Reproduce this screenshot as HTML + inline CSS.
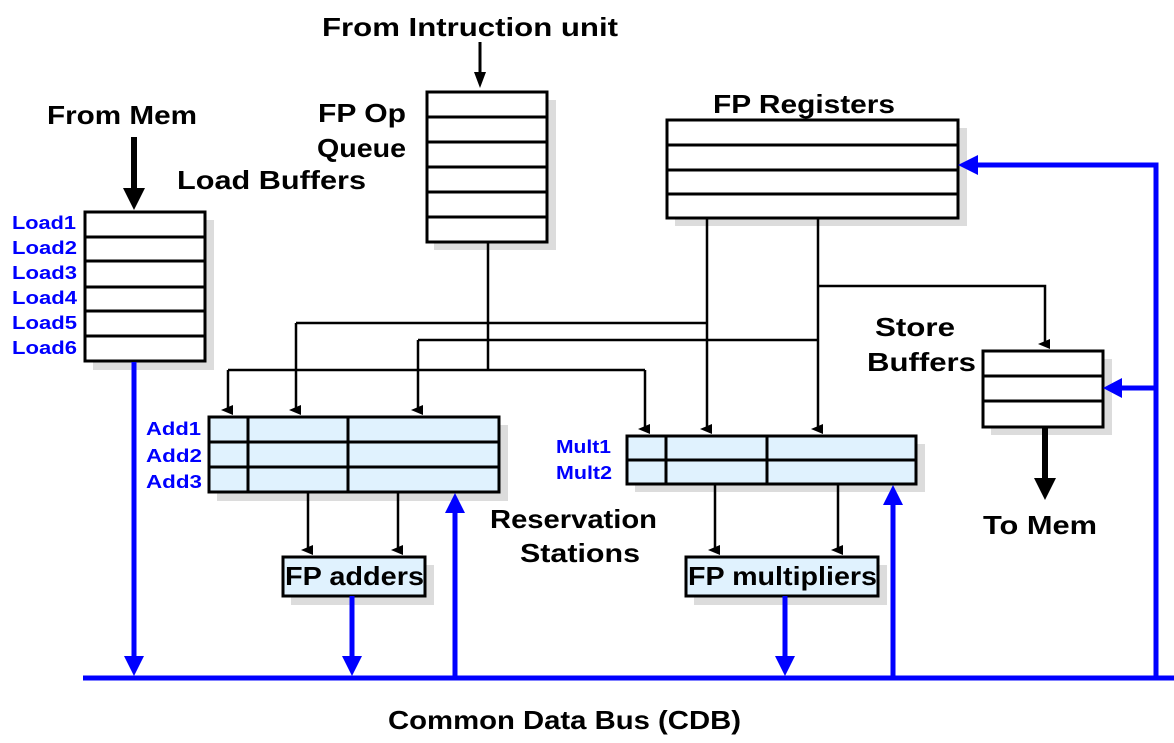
<!DOCTYPE html>
<html><head><meta charset="utf-8"><style>
html,body{margin:0;padding:0;background:#fff;}
svg{display:block;}
text{font-family:"Liberation Sans",sans-serif;font-weight:bold;}
.b{fill:#000;font-size:26px;}
.l{fill:#0000ff;font-size:18px;}
</style></head><body>
<svg width="1174" height="743" viewBox="0 0 1174 743" xmlns="http://www.w3.org/2000/svg">
<defs>
<marker id="ak" markerWidth="10" markerHeight="12" refX="5" refY="5" orient="auto-start-reverse" markerUnits="userSpaceOnUse" viewBox="0 0 10 12"><path d="M0,0 L10,0 L5,12 Z" fill="#000"/></marker>
</defs>
<g fill="#dcdcdc">
<rect x="93" y="220" width="121" height="150"/>
<rect x="434" y="100" width="122" height="150"/>
<rect x="675" y="128" width="292" height="98"/>
<rect x="991" y="359" width="121" height="76"/>
<rect x="217" y="425" width="291" height="76"/>
<rect x="635" y="444" width="290" height="48"/>
<rect x="291" y="565" width="143" height="40"/>
<rect x="694" y="565" width="193" height="40"/>
</g>
<g stroke="#000" stroke-width="3" fill="#fff">
<rect x="85" y="212" width="120" height="149"/>
<path d="M85 237H205M85 261H205M85 287H205M85 311H205M85 336H205"/>
<rect x="427" y="92" width="120" height="150"/>
<path d="M427 117H547M427 142H547M427 167H547M427 192H547M427 217H547"/>
<rect x="667" y="120" width="291" height="98"/>
<path d="M667 145H958M667 170H958M667 194H958"/>
<rect x="983" y="351" width="120" height="76"/>
<path d="M983 376H1103M983 401H1103"/>
</g>
<g stroke="#000" stroke-width="3" fill="#e0f2fe">
<rect x="209" y="417" width="290" height="75"/>
<path d="M209 442H499M209 467H499M248 417V492M348 417V492"/>
<rect x="627" y="436" width="289" height="48"/>
<path d="M627 460H916M666 436V484M767 436V484"/>
<rect x="283" y="557" width="142" height="39"/>
<rect x="686" y="557" width="192" height="39"/>
</g>
<g stroke="#000" stroke-width="2.5" fill="none">
<path d="M488 242V370M228 370H645"/>
<path d="M228 370V410" marker-end="url(#ak)"/>
<path d="M645 370V429" marker-end="url(#ak)"/>
<path d="M707 218V429" marker-end="url(#ak)"/>
<path d="M818 218V429" marker-end="url(#ak)"/>
<path d="M296 323H707M296 323V410" marker-end="url(#ak)"/>
<path d="M418 340H818M418 340V410" marker-end="url(#ak)"/>
<path d="M818 286H1045V344" marker-end="url(#ak)"/>
<path d="M308 492V550" marker-end="url(#ak)"/>
<path d="M398 492V550" marker-end="url(#ak)"/>
<path d="M715 484V550" marker-end="url(#ak)"/>
<path d="M838 484V550" marker-end="url(#ak)"/>
</g>
<g stroke="#000" stroke-width="3">
<path d="M480 42V75"/>
</g>
<path d="M474 72H486L480 88Z" fill="#000"/>
<path d="M134 137V190" stroke="#000" stroke-width="6"/>
<path d="M123 188H145L134 210Z" fill="#000"/>
<path d="M1045 427V480" stroke="#000" stroke-width="6"/>
<path d="M1034 478H1056L1045 500Z" fill="#000"/>
<g stroke="#0000ff" stroke-width="5" fill="none">
<path d="M83 678H1174"/>
<path d="M134 362V660"/>
<path d="M352 596V660"/>
<path d="M455 678V510"/>
<path d="M785 596V660"/>
<path d="M893 678V502"/>
<path d="M1156 678V165H975"/>
<path d="M1156 388H1120"/>
</g>
<g fill="#0000ff">
<path d="M124 656H144L134 676Z"/>
<path d="M342 656H362L352 676Z"/>
<path d="M445 513H465L455 493Z"/>
<path d="M775 656H795L785 676Z"/>
<path d="M883 505H903L893 485Z"/>
<path d="M978 155V175L958 165Z"/>
<path d="M1122 378V398L1103 388Z"/>
</g>
<text class="b" x="322" y="36" textLength="296" lengthAdjust="spacingAndGlyphs">From Intruction unit</text>
<text class="b" x="47" y="124" textLength="150" lengthAdjust="spacingAndGlyphs">From Mem</text>
<text class="b" x="318" y="122" textLength="88" lengthAdjust="spacingAndGlyphs">FP Op</text>
<text class="b" x="317" y="157" textLength="89" lengthAdjust="spacingAndGlyphs">Queue</text>
<text class="b" x="177" y="189" textLength="189" lengthAdjust="spacingAndGlyphs">Load Buffers</text>
<text class="b" x="713" y="113" textLength="182" lengthAdjust="spacingAndGlyphs">FP Registers</text>
<text class="b" x="875" y="336" textLength="80" lengthAdjust="spacingAndGlyphs">Store</text>
<text class="b" x="867" y="371" textLength="109" lengthAdjust="spacingAndGlyphs">Buffers</text>
<text class="b" x="983" y="534" textLength="114" lengthAdjust="spacingAndGlyphs">To Mem</text>
<text class="b" x="490" y="528" textLength="167" lengthAdjust="spacingAndGlyphs">Reservation</text>
<text class="b" x="520" y="562" textLength="120" lengthAdjust="spacingAndGlyphs">Stations</text>
<text class="b" x="285" y="585" textLength="139" lengthAdjust="spacingAndGlyphs">FP adders</text>
<text class="b" x="688" y="585" textLength="189" lengthAdjust="spacingAndGlyphs">FP multipliers</text>
<text class="b" x="388" y="729" textLength="353" lengthAdjust="spacingAndGlyphs">Common Data Bus (CDB)</text>
<text class="l" x="12" y="229" textLength="64" lengthAdjust="spacingAndGlyphs">Load1</text>
<text class="l" x="12" y="254" textLength="65" lengthAdjust="spacingAndGlyphs">Load2</text>
<text class="l" x="12" y="279" textLength="65" lengthAdjust="spacingAndGlyphs">Load3</text>
<text class="l" x="12" y="304" textLength="65" lengthAdjust="spacingAndGlyphs">Load4</text>
<text class="l" x="12" y="329" textLength="65" lengthAdjust="spacingAndGlyphs">Load5</text>
<text class="l" x="12" y="354" textLength="65" lengthAdjust="spacingAndGlyphs">Load6</text>
<text class="l" x="146" y="435" textLength="55" lengthAdjust="spacingAndGlyphs">Add1</text>
<text class="l" x="146" y="462" textLength="56" lengthAdjust="spacingAndGlyphs">Add2</text>
<text class="l" x="146" y="488" textLength="56" lengthAdjust="spacingAndGlyphs">Add3</text>
<text class="l" x="556" y="453" textLength="55" lengthAdjust="spacingAndGlyphs">Mult1</text>
<text class="l" x="556" y="479" textLength="56" lengthAdjust="spacingAndGlyphs">Mult2</text>
</svg>
</body></html>
